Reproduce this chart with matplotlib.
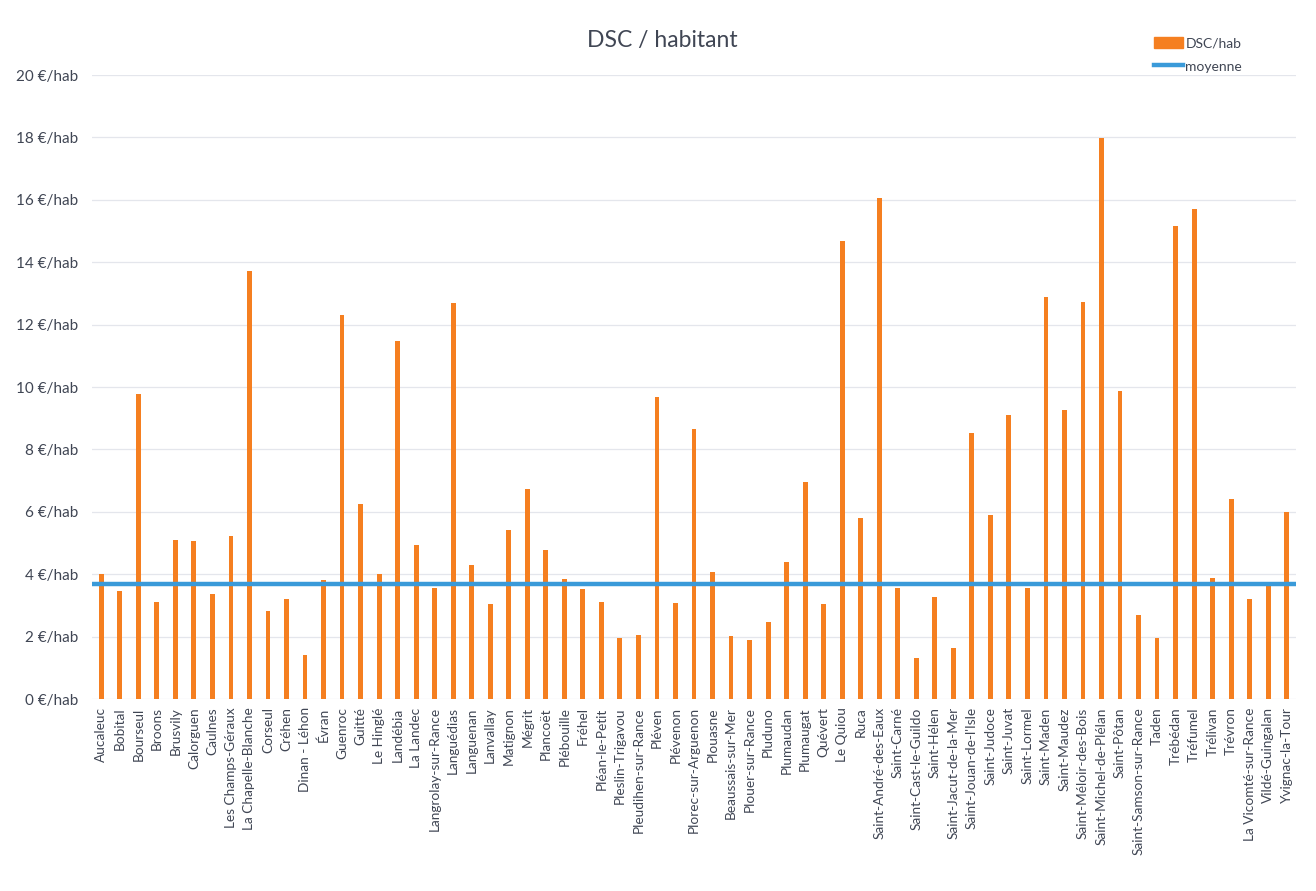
import numpy as np
import matplotlib.pyplot as plt
from matplotlib.patches import Patch
from matplotlib.lines import Line2D

communes = ["Aucaleuc", "Bobital", "Bourseul", "Broons", "Brusvily", "Calorguen", "Caulnes",
            "Les Champs-Géraux", "La Chapelle-Blanche", "Corseul", "Créhen", "Dinan - Léhon",
            "Évran", "Guenroc", "Guitté", "Le Hinglé", "Landébia", "La Landec",
            "Langrolay-sur-Rance", "Languédias", "Languenan", "Lanvallay", "Matignon", "Mégrit",
            "Plancoët", "Plébouille", "Fréhel", "Pléan-le-Petit", "Pleslin-Trigavou",
            "Pleudihen-sur-Rance", "Pléven", "Plévenon", "Plorec-sur-Arguenon", "Plouasne",
            "Beaussais-sur-Mer", "Plouer-sur-Rance", "Pluduno", "Plumaudan", "Plumaugat",
            "Quévert", "Le Quiou", "Ruca", "Saint-André-des-Eaux", "Saint-Carné",
            "Saint-Cast-le-Guildo", "Saint-Hélen", "Saint-Jacut-de-la-Mer",
            "Saint-Jouan-de-l'Isle", "Saint-Judoce", "Saint-Juvat", "Saint-Lormel",
            "Saint-Maden", "Saint-Maudez", "Saint-Méloir-des-Bois", "Saint-Michel-de-Plélan",
            "Saint-Pôtan", "Saint-Samson-sur-Rance", "Taden", "Trébédan", "Tréfumel",
            "Trélivan", "Trévron", "La Vicomté-sur-Rance", "Vildé-Guingalan", "Yvignac-la-Tour"]

dsc_hab = [4.0, 3.45, 9.78, 3.1, 5.1, 5.05, 3.35, 5.22, 13.72, 2.83, 3.2, 1.42,
           3.81, 12.32, 6.25, 4.02, 11.48, 4.92, 3.55, 12.68, 4.3, 3.04, 5.42, 6.73,
           4.78, 3.85, 3.54, 3.1, 1.95, 2.06, 9.67, 3.07, 8.65, 4.08, 2.03, 1.89,
           2.47, 4.38, 6.95, 3.05, 14.68, 5.81, 16.07, 3.55, 1.32, 3.27, 1.64,
           8.53, 5.9, 9.1, 3.55, 12.88, 9.26, 12.73, 17.98, 9.87, 2.69, 1.97,
           15.16, 15.7, 3.89, 6.41, 3.2, 3.75, 6.0]

moyenne = 3.68

yticks = list(range(0, 21, 2))
ytick_labels = [f"{v} €/hab" for v in yticks]

orange = "#F57F20"
blue = "#3A9AD9"
text_col = "#404654"

plt.rcParams['font.family'] = ['Lato', 'DejaVu Sans']

fig = plt.figure(figsize=(13.16, 8.91), dpi=100)
ax = fig.add_axes([92/1316, 1 - 699/891, (1296 - 92)/1316, (699 - 75)/891])

x = np.arange(len(communes))
ax.bar(x, dsc_hab, width=0.26, color=orange, zorder=2)
ax.plot([-0.5, len(communes) - 0.5], [moyenne, moyenne], color=blue, lw=3.2, zorder=3)

ax.set_xlim(-0.5, len(communes) - 0.5)
ax.set_ylim(0, 20)
ax.set_yticks(yticks)
ax.set_yticklabels(ytick_labels, fontsize=11, color=text_col)
ax.set_xticks(x)
ax.set_xticklabels(communes, rotation=90, fontsize=9.8, color=text_col)
ax.tick_params(length=0, pad=6)
ax.tick_params(axis='y', pad=10)
ax.grid(axis='y', color="#e4e6ec", lw=0.9, zorder=0)
for s in ax.spines.values():
    s.set_visible(False)

fig.text(662/1316, 1 - 40/891, "DSC / habitant", ha='center', va='center',
         fontsize=16.5, color=text_col)

handles = [Patch(color=orange), Line2D([0], [0], color=blue, lw=3.2)]
fig.legend(handles, ["DSC/hab", "moyenne"], loc='upper left',
           bbox_to_anchor=(1141/1316, 1 - 24/891), frameon=False, fontsize=10,
           handlelength=2.1, handleheight=0.9, handletextpad=0.2, labelspacing=0.8,
           labelcolor=text_col)

fig.savefig("out.png", dpi=100)
